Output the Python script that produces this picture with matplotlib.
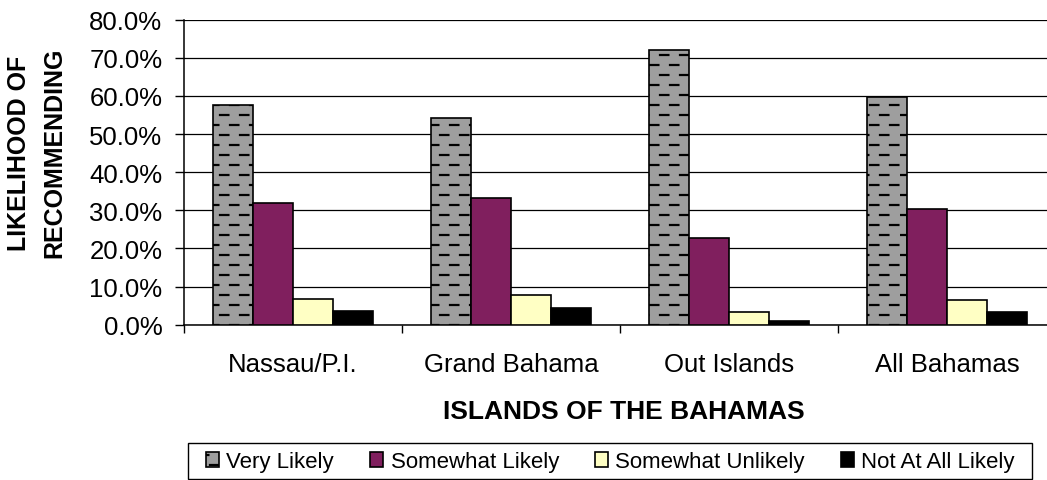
import warnings
import numpy as np
import matplotlib
matplotlib.use("Agg")
import matplotlib.pyplot as plt
from matplotlib import hatch as mhatch
from matplotlib.path import Path
from matplotlib.patches import Rectangle

warnings.filterwarnings("ignore")

# ---------- Data ----------
islands = ["Nassau/P.I.", "Grand Bahama", "Out Islands", "All Bahamas"]
series = ["Very Likely", "Somewhat Likely", "Somewhat Unlikely", "Not At All Likely"]

very_likely = [57.5, 54.2, 72.1, 59.8]
somewhat_likely = [31.8, 33.3, 22.8, 30.4]
somewhat_unlikely = [6.8, 7.9, 3.4, 6.4]
not_at_all_likely = [3.6, 4.5, 1.1, 3.3]

yticks = [0, 10, 20, 30, 40, 50, 60, 70, 80]

colors = ["#9e9e9e", "#801f5e", "#ffffc4", "#000000"]
hatches = ["=", None, None, None]


# ---------- Dashed brick hatch ('=') ----------
class DashHatch(mhatch.HatchPatternBase):
    def __init__(self, hatch, density):
        n = hatch.count("=")
        self.rows = 10 * n
        self.cols = 5 * n
        self.num_vertices = self.rows * self.cols * 2

    def set_vertices_and_codes(self, vertices, codes):
        i = 0
        for r in range(self.rows):
            y = (r + 0.5) / self.rows
            shift = 0.5 / self.cols if r % 2 else 0.0
            for c in range(self.cols):
                x0 = c / self.cols + shift
                vertices[i] = (x0, y)
                vertices[i + 1] = (x0 + 0.42 / self.cols, y)
                codes[i] = Path.MOVETO
                codes[i + 1] = Path.LINETO
                i += 2


mhatch._hatch_types.append(DashHatch)
plt.rcParams["hatch.linewidth"] = 1.6
plt.rcParams["font.family"] = ["Liberation Sans", "DejaVu Sans"]


# ---------- Figure ----------
W, H = 1047, 481
fig = plt.figure(figsize=(W / 100, H / 100), dpi=100)

left, right, top, bottom = 184, 1056.4, 20.7, 325.7
ax = fig.add_axes([left / W, 1 - bottom / H, (right - left) / W, (bottom - top) / H])

values = [very_likely, somewhat_likely, somewhat_unlikely, not_at_all_likely]
x = np.arange(len(islands))
bar_w = 0.1835
start = 0.5 - 2 * bar_w

bars = []
for k, (name, vals) in enumerate(zip(series, values)):
    b = ax.bar(x + start + k * bar_w, vals, width=bar_w, align="edge",
               color=colors[k], edgecolor="black", linewidth=1.2,
               hatch=hatches[k], label=name, zorder=3)
    bars.append(b)

ax.set_xlim(0, len(islands))
ax.set_ylim(0, 80)
ax.set_yticks(yticks)
ax.set_yticklabels([f"{v:.1f}%" for v in yticks])
ax.yaxis.grid(True, color="black", linewidth=0.9, zorder=0)
ax.set_axisbelow(True)

# category boundaries as ticks, names centred between them
ax.set_xticks(np.arange(len(islands) + 1))
ax.set_xticklabels([])
ax.set_xticks(x + 0.5, minor=True)
ax.set_xticklabels(islands, minor=True)
ax.tick_params(axis="x", which="major", direction="out", length=6, width=1)
ax.tick_params(axis="x", which="minor", length=0, pad=20, labelsize=18.5)
ax.tick_params(axis="y", direction="out", length=6.5, width=1, pad=9, labelsize=18.5)

for s in ["top", "right"]:
    ax.spines[s].set_visible(False)
for s in ["left", "bottom"]:
    ax.spines[s].set_linewidth(1.1)

fig.text(36.5 / W, 1 - 153 / H, "LIKELIHOOD OF\nRECOMMENDING", rotation=90,
         ha="center", va="center", multialignment="center",
         fontsize=18, fontweight="bold", linespacing=1.6)
fig.text(624 / W, 1 - 412 / H, "ISLANDS OF THE BAHAMAS",
         ha="center", va="center", fontsize=19, fontweight="bold")

# ---------- Legend ----------
fig.patches.append(Rectangle((188 / W, 1 - 480 / H), 844 / W, 36 / H,
                             transform=fig.transFigure, fill=False,
                             edgecolor="black", linewidth=1.0))
fig.legend(handles=bars, labels=series, loc="center left",
           bbox_to_anchor=(206 / W, 1 - 463 / H), ncol=4, frameon=False,
           borderpad=0, borderaxespad=0, handlelength=0.6, handleheight=0.65,
           handletextpad=0.32, columnspacing=1.62,
           prop={"family": ["Liberation Sans", "DejaVu Sans"], "size": 16})

fig.savefig("out.png", dpi=100)
